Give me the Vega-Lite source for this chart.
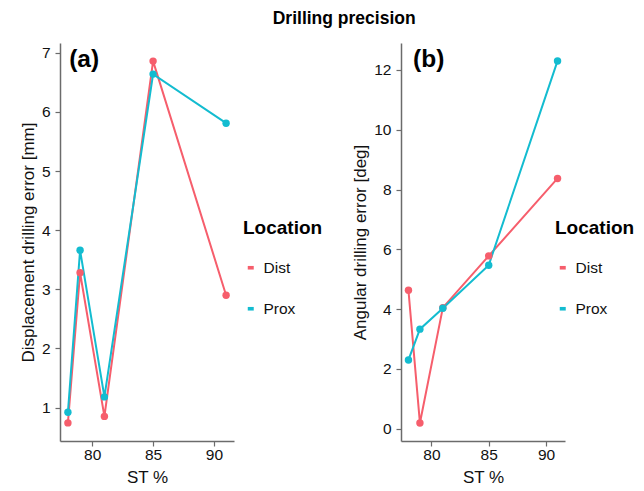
{
  "$schema": "https://vega.github.io/schema/vega-lite/v6.json",
  "autosize": {"type": "pad"},
  "padding": {"left": 19, "top": 9, "right": 0, "bottom": 0},
  "background": "white",
  "title": {"text": "Drilling precision", "fontSize": 17.5, "fontWeight": "bold", "font": "Liberation Sans", "color": "#000000", "anchor": "middle", "offset": 16, "dx": 17},
  "config": {
    "font": "Liberation Sans",
    "view": {"stroke": null},
    "axis": {"grid": false, "domainColor": "#6b6b6b", "domainWidth": 1.5, "tickColor": "#6b6b6b", "tickWidth": 1.2, "tickSize": 5, "labelFontSize": 15.5, "labelColor": "#111111", "labelPadding": 5, "titleFontSize": 17, "titleFontWeight": "normal", "titleColor": "#111111", "format": "d"},
    "axisX": {"labelPadding": 1, "titlePadding": 7},
    "legend": {"titleFontSize": 19, "titleFontWeight": "bold", "titleColor": "#000000", "labelFontSize": 15.5, "labelColor": "#111111", "rowPadding": 24, "titlePadding": 22, "labelOffset": 5, "symbolType": "M-1,-0.6L1,-0.6L1,0.6L-1,0.6Z", "symbolSize": 36, "symbolStrokeWidth": 0, "padding": 0, "orient": "none"},
    "concat": {"spacing": 28}
  },
  "datasets": {
    "drill": [
      {"panel": "a", "st": 78, "loc": "Dist", "value": 0.74},
      {"panel": "a", "st": 79, "loc": "Dist", "value": 3.28},
      {"panel": "a", "st": 81, "loc": "Dist", "value": 0.85},
      {"panel": "a", "st": 85, "loc": "Dist", "value": 6.86},
      {"panel": "a", "st": 91, "loc": "Dist", "value": 2.9},
      {"panel": "a", "st": 78, "loc": "Prox", "value": 0.92},
      {"panel": "a", "st": 79, "loc": "Prox", "value": 3.66},
      {"panel": "a", "st": 81, "loc": "Prox", "value": 1.18},
      {"panel": "a", "st": 85, "loc": "Prox", "value": 6.64},
      {"panel": "a", "st": 91, "loc": "Prox", "value": 5.81},
      {"panel": "b", "st": 78, "loc": "Dist", "value": 4.63},
      {"panel": "b", "st": 79, "loc": "Dist", "value": 0.19},
      {"panel": "b", "st": 81, "loc": "Dist", "value": 4.05},
      {"panel": "b", "st": 85, "loc": "Dist", "value": 5.78},
      {"panel": "b", "st": 91, "loc": "Dist", "value": 8.37},
      {"panel": "b", "st": 78, "loc": "Prox", "value": 2.3},
      {"panel": "b", "st": 79, "loc": "Prox", "value": 3.33},
      {"panel": "b", "st": 81, "loc": "Prox", "value": 4.03},
      {"panel": "b", "st": 85, "loc": "Prox", "value": 5.47},
      {"panel": "b", "st": 91, "loc": "Prox", "value": 12.3}
    ]
  },
  "hconcat": [
    {
      "width": 174,
      "height": 398,
      "layer": [
        {
          "data": {"name": "drill"},
          "transform": [{"filter": "datum.panel == 'a'"}],
          "mark": {"type": "line", "strokeWidth": 2},
          "encoding": {
            "x": {"field": "st", "type": "quantitative", "title": "ST %", "scale": {"domain": [77.35, 91.65], "nice": false, "zero": false}, "axis": {"values": [80, 85, 90], "format": "d"}},
            "y": {"field": "value", "type": "quantitative", "title": "Displacement drilling error [mm]", "scale": {"domain": [0.434, 7.166], "nice": false, "zero": false}, "axis": {"values": [1, 2, 3, 4, 5, 6, 7], "format": "d"}},
            "color": {"field": "loc", "type": "nominal", "title": "Location", "scale": {"domain": ["Dist", "Prox"], "range": ["#F65E6C", "#13BCD0"]}, "legend": {"legendX": 183, "legendY": 176}}
          }
        },
        {
          "data": {"name": "drill"},
          "transform": [{"filter": "datum.panel == 'a'"}],
          "mark": {"type": "point", "filled": true, "size": 55, "opacity": 1},
          "encoding": {
            "x": {"field": "st", "type": "quantitative", "title": "ST %"},
            "y": {"field": "value", "type": "quantitative", "title": "Displacement drilling error [mm]"},
            "color": {"field": "loc", "type": "nominal", "title": "Location"}
          }
        },
        {
          "data": {"values": [{"label": "(a)"}]},
          "mark": {"type": "text", "fontSize": 24.5, "fontWeight": "bold", "align": "left", "baseline": "alphabetic", "color": "#000000"},
          "encoding": {
            "x": {"datum": 78.1, "type": "quantitative"},
            "y": {"datum": 6.76, "type": "quantitative"},
            "text": {"field": "label"}
          }
        }
      ]
    },
    {
      "width": 164,
      "height": 398,
      "layer": [
        {
          "data": {"name": "drill"},
          "transform": [{"filter": "datum.panel == 'b'"}],
          "mark": {"type": "line", "strokeWidth": 2},
          "encoding": {
            "x": {"field": "st", "type": "quantitative", "title": "ST %", "scale": {"domain": [77.35, 91.65], "nice": false, "zero": false}, "axis": {"values": [80, 85, 90], "format": "d"}},
            "y": {"field": "value", "type": "quantitative", "title": "Angular drilling error [deg]", "scale": {"domain": [-0.41, 12.9], "nice": false, "zero": false}, "axis": {"values": [0, 2, 4, 6, 8, 10, 12], "format": "d"}},
            "color": {"field": "loc", "type": "nominal", "title": "Location", "scale": {"domain": ["Dist", "Prox"], "range": ["#F65E6C", "#13BCD0"]}, "legend": {"legendX": 154, "legendY": 176}}
          }
        },
        {
          "data": {"name": "drill"},
          "transform": [{"filter": "datum.panel == 'b'"}],
          "mark": {"type": "point", "filled": true, "size": 55, "opacity": 1},
          "encoding": {
            "x": {"field": "st", "type": "quantitative", "title": "ST %"},
            "y": {"field": "value", "type": "quantitative", "title": "Angular drilling error [deg]"},
            "color": {"field": "loc", "type": "nominal", "title": "Location"}
          }
        },
        {
          "data": {"values": [{"label": "(b)"}]},
          "mark": {"type": "text", "fontSize": 24.5, "fontWeight": "bold", "align": "left", "baseline": "alphabetic", "color": "#000000"},
          "encoding": {
            "x": {"datum": 78.4, "type": "quantitative"},
            "y": {"datum": 12.1, "type": "quantitative"},
            "text": {"field": "label"}
          }
        }
      ]
    }
  ],
  "resolve": {"scale": {"color": "independent", "x": "independent", "y": "independent"}, "legend": {"color": "independent"}}
}
